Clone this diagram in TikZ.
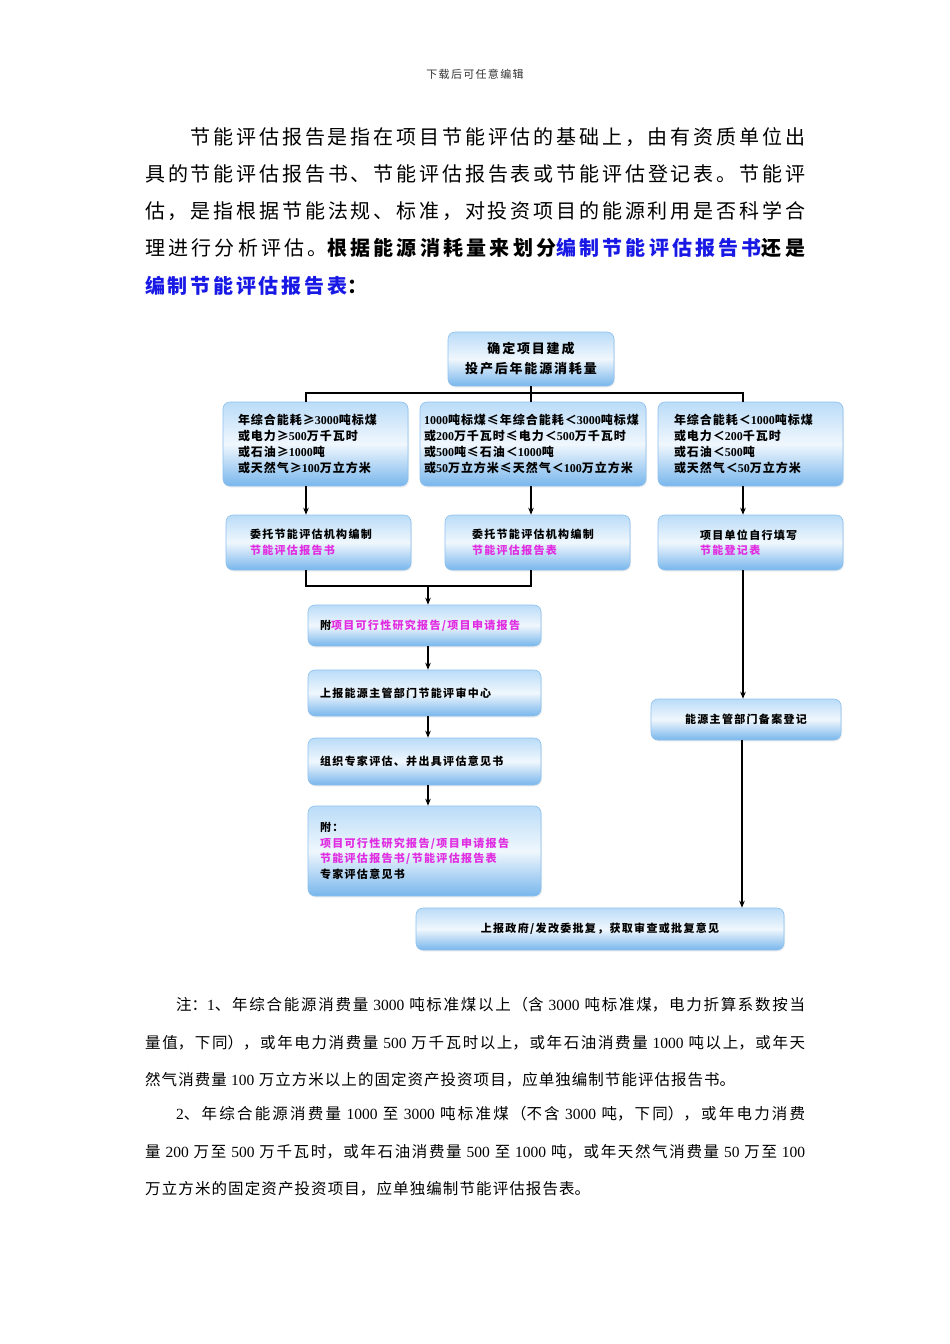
\documentclass[tikz,border=0pt]{standalone}
\usepackage{fontspec}
\setmainfont{Noto Sans CJK SC}
\newfontfamily\cjk{Noto Sans CJK SC}
\newfontfamily\paraf{Noto Sans CJK SC}[LetterSpace=13.75]
\newfontfamily\boxf{Noto Sans CJK SC}[LetterSpace=12]
\newfontfamily\rowf{Noto Sans CJK SC}[LetterSpace=8.3]
\newfontfamily\topf{Noto Sans CJK SC}[LetterSpace=14]
\newfontfamily\numf{Liberation Serif}
\newcommand\dg[1]{{\numf #1}}
\usetikzlibrary{arrows.meta,shadows}
\definecolor{pblue}{RGB}{25,25,230}
\definecolor{pmag}{RGB}{225,45,225}
\definecolor{btop}{RGB}{186,220,248}
\definecolor{bmid}{RGB}{240,247,253}
\definecolor{bbot}{RGB}{120,182,236}
\definecolor{bedge}{RGB}{140,192,238}
% justified single line: width, inter-character glue, text
\newcommand\jpar[3]{\parbox{#1}{\parfillskip=0pt\relax\parindent=0pt\relax
  \XeTeXlinebreaklocale "zh"\relax\XeTeXlinebreakskip=#2\relax #3\par}\XeTeXlinebreaklocale ""\relax}
\tikzset{
  fbox/.style={draw=bedge, line width=0.6pt, rounded corners=7pt,
    top color=btop, bottom color=bbot, middle color=bmid, inner ysep=0pt,
    font=\boxf\bfseries\fontsize{11}{15.5}\selectfont,
    drop shadow={opacity=0.12, shadow xshift=1pt, shadow yshift=-1.5pt}},
  rowbox/.style={fbox, minimum height=84pt, align=left, font=\rowf\bfseries\fontsize{12}{16}\selectfont},
  conn/.style={line width=1.2pt, black},
  arr/.style={conn, -{Stealth[length=7pt,width=5.5pt]}},
  ptext/.style={anchor=west, inner sep=0pt, font=\paraf\fontsize{20}{24}\selectfont},
  ntext/.style={anchor=west, inner sep=0pt, font=\cjk\fontsize{15.5}{18}\selectfont},
}
\begin{document}
\begin{tikzpicture}[x=1pt,y=-1pt]
\fill[white] (0,0) rectangle (950,1344);
\useasboundingbox (0,0) rectangle (950,1344);

% header
\node[font=\boxf\fontsize{11}{13}\selectfont, text=black!80] (hdr) at (475,74) {下载后可任意编辑};

% paragraph
\node[ptext] (p1) at (190.5,137) {\jpar{614.5pt}{2.75pt plus 2pt}{节能评估报告是指在项目节能评估的基础上，由有资质单位出}};
\node[ptext] (p2) at (145,174) {\jpar{660pt}{2.75pt plus 2pt}{具的节能评估报告书、节能评估报告表或节能评估登记表。节能评}};
\node[ptext] (p3) at (145,211) {\jpar{660pt}{2.75pt plus 2pt}{估，是指根据节能法规、标准，对投资项目的能源利用是否科学合}};
\node[ptext] (p4) at (145,248) {\jpar{660pt}{2.75pt plus 2pt}{理进行分析评估。{\bfseries 根据能源消耗量来划分\textcolor{pblue}{编制节能评估报告书}还是}}};
\node[ptext] (p5) at (145,286) {{\bfseries\textcolor{pblue}{编制节能评估报告表}：}};

% flowchart
\node[fbox, minimum width=166pt, minimum height=54pt, align=center,
  font=\topf\bfseries\fontsize{13}{20}\selectfont] (top) at (531,359) {确定项目建成\\投产后年能源消耗量};

\node[rowbox, minimum width=185pt, inner xsep=15pt, text width=155pt] (a1) at (315.5,444)
  {年综合能耗≥\dg{3000}吨标煤\\或电力≥\dg{500}万千瓦时\\或石油≥\dg{1000}吨\\或天然气≥\dg{100}万立方米};
\node[rowbox, minimum width=226pt, inner xsep=4pt, text width=218pt] (a2) at (533,444)
  {\dg{1000}吨标煤≤年综合能耗＜\dg{3000}吨标煤\\或\dg{200}万千瓦时≤电力＜\dg{500}万千瓦时\\或\dg{500}吨≤石油＜\dg{1000}吨\\或\dg{50}万立方米≤天然气＜\dg{100}万立方米};
\node[rowbox, minimum width=185pt, inner xsep=16pt, text width=153pt] (a3) at (750.5,444)
  {年综合能耗＜\dg{1000}吨标煤\\或电力＜\dg{200}千瓦时\\或石油＜\dg{500}吨\\或天然气＜\dg{50}万立方米};

\node[fbox, minimum width=185pt, minimum height=55pt, inner xsep=24pt, text width=137pt, align=left] (b1) at (318.5,542.5)
  {委托节能评估机构编制\\\textcolor{pmag}{节能评估报告书}};
\node[fbox, minimum width=185pt, minimum height=55pt, inner xsep=27pt, text width=131pt, align=left] (b2) at (537.5,542.5)
  {委托节能评估机构编制\\\textcolor{pmag}{节能评估报告表}};
\node[fbox, minimum width=185pt, minimum height=55pt, inner xsep=42pt, text width=101pt, align=left] (b3) at (750.5,542.5)
  {项目单位自行填写\\\textcolor{pmag}{节能登记表}};

\node[fbox, minimum width=233pt, minimum height=41pt, inner xsep=12pt, text width=209pt, align=left] (c1) at (424.5,625.5)
  {附\textcolor{pmag}{项目可行性研究报告/项目申请报告}};
\node[fbox, minimum width=233pt, minimum height=46pt, inner xsep=12pt, text width=209pt, align=left] (c2) at (424.5,693)
  {上报能源主管部门节能评审中心};
\node[fbox, minimum width=233pt, minimum height=47pt, inner xsep=12pt, text width=209pt, align=left] (c3) at (424.5,761.5)
  {组织专家评估、并出具评估意见书};
\node[fbox, minimum width=233pt, minimum height=90pt, inner xsep=12pt, text width=209pt, align=left] (c4) at (424.5,851)
  {附：\\\textcolor{pmag}{项目可行性研究报告/项目申请报告}\\\textcolor{pmag}{节能评估报告书/节能评估报告表}\\专家评估意见书};

\node[fbox, minimum width=190pt, minimum height=41pt, align=center] (r1) at (746,719.5) {能源主管部门备案登记};
\node[fbox, minimum width=368pt, minimum height=42pt, align=center] (fin) at (600,929) {上报政府/发改委批复，获取审查或批复意见};

% connectors
\coordinate (hb) at (531,393);
\coordinate (d1) at (306,393);
\coordinate (d3) at (743,393);
\draw[conn] (top.south) -- (hb);
\draw[conn] (d1 |- a1.north) -- (d1) -- (d3) -- (d3 |- a3.north);
\draw[conn] (hb) -- (hb |- a2.north);
\draw[arr] (d1 |- a1.south) -- (d1 |- b1.north);
\draw[arr] (hb |- a2.south) -- (hb |- b2.north);
\draw[arr] (d3 |- a3.south) -- (d3 |- b3.north);
\coordinate (jl) at (306,586);
\coordinate (jr) at (531,586);
\coordinate (jn) at (428,586);
\draw[conn] (d1 |- b1.south) -- (jl) -- (jr) -- (hb |- b2.south);
\draw[arr] (jn) -- (jn |- c1.north);
\draw[arr] (jn |- c1.south) -- (jn |- c2.north);
\draw[arr] (jn |- c2.south) -- (jn |- c3.north);
\draw[arr] (jn |- c3.south) -- (jn |- c4.north);
\draw[arr] (d3 |- b3.south) -- (d3 |- r1.north);
\coordinate (rv) at (742,740);
\draw[arr] (rv |- r1.south) -- (rv |- fin.north);

% notes
\node[ntext] (n1) at (176,1005) {\jpar{629pt}{0pt plus 2pt}{注：\dg{1}、年综合能源消费量 \dg{3000} 吨标准煤以上（含 \dg{3000} 吨标准煤，电力折算系数按当}};
\node[ntext] (n2) at (145,1043) {\jpar{660pt}{0pt plus 2pt}{量值，下同），或年电力消费量 \dg{500} 万千瓦时以上，或年石油消费量 \dg{1000} 吨以上，或年天}};
\node[ntext] (n3) at (145,1080) {\jpar{590pt}{0pt plus 2pt}{然气消费量 \dg{100} 万立方米以上的固定资产投资项目，应单独编制节能评估报告书。}};
\node[ntext] (n4) at (176,1114) {\jpar{629pt}{0pt plus 2pt}{\dg{2}、年综合能源消费量 \dg{1000} 至 \dg{3000} 吨标准煤（不含 \dg{3000} 吨，下同），或年电力消费}};
\node[ntext] (n5) at (145,1152) {\jpar{660pt}{0pt plus 2pt}{量 \dg{200} 万至 \dg{500} 万千瓦时，或年石油消费量 \dg{500} 至 \dg{1000} 吨，或年天然气消费量 \dg{50} 万至 \dg{100}}};
\node[ntext] (n6) at (145,1189) {\jpar{445pt}{0pt plus 2pt}{万立方米的固定资产投资项目，应单独编制节能评估报告表。}};
\end{tikzpicture}
\end{document}
